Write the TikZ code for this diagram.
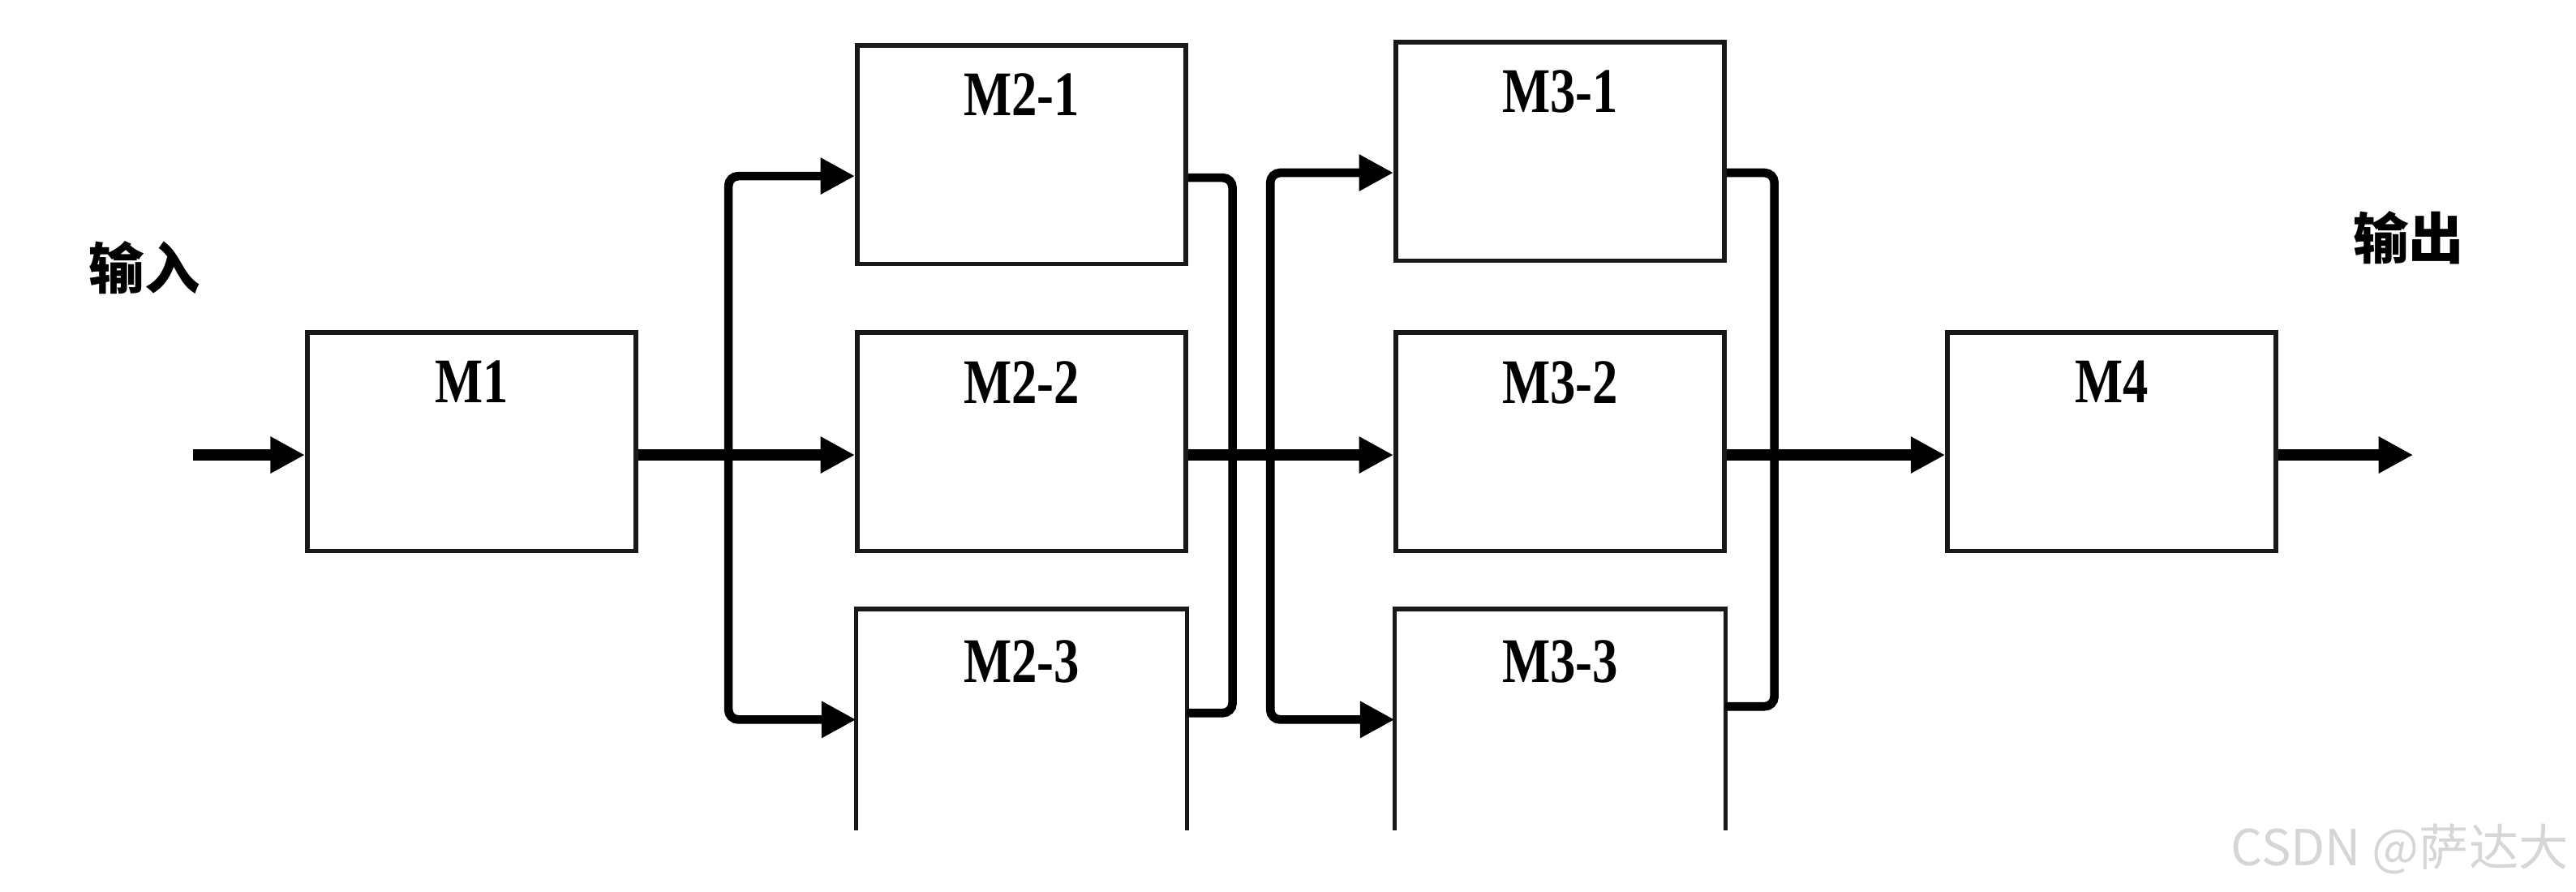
\documentclass[tikz,border=0pt]{standalone}
\usepackage{fontspec}
\setmainfont{Liberation Serif}
\newfontfamily\cjk{Noto Sans CJK SC}
\newfontfamily\modfont{Liberation Serif}[FakeStretch=0.8]
\usetikzlibrary{positioning,arrows.meta,calc}

\begin{document}
\begin{tikzpicture}[
  >={Triangle[length=2.1mm, width=2.1mm]},
  modlbl/.style={anchor=north, inner sep=0pt, yshift=-1.8mm,
                 font=\modfont\bfseries\fontsize{11}{11}\selectfont},
  mod/.style={draw=black!90, line width=0.8pt, minimum width=20mm,
              minimum height=13.3mm, inner sep=0pt, label={[modlbl]north:#1}},
  openmod/.style={minimum width=20mm, minimum height=13.3mm, inner sep=0pt,
                  label={[modlbl]north:#1}},
  side/.style={draw=black!90, line width=0.8pt},
  main/.style={line width=2pt, black},
  bus/.style={line width=1.5pt, black, rounded corners=0.6mm},
  io/.style={font=\cjk\bfseries\fontsize{9.6}{11}\selectfont},
  wm/.style={font=\cjk\fontsize{8.6}{10}\selectfont, text=black!16, inner sep=0pt},
]
\useasboundingbox (0,0) rectangle (156.8mm,-54.3mm);

%% ---------- modules ----------
\node[mod=M1] (m1) at (28.7mm,-26.9mm) {};
\node[mod=M2-2, right=13.2mm of m1] (m22) {};
\node[mod=M2-1, above=3.9mm of m22] (m21) {};
\node[openmod=M2-3, below=3.4mm of m22] (m23) {};
\node[mod=M3-2, right=12.5mm of m22] (m32) {};
\node[mod=M3-1, above=4.1mm of m32] (m31) {};
\node[openmod=M3-3, below=3.4mm of m32] (m33) {};
\node[mod=M4, right=13.3mm of m32] (m4) {};
%% bottom rows are cut open at the lower edge
\draw[side] (m23.south west) -- (m23.north west) -- (m23.north east) -- (m23.south east);
\draw[side] (m33.south west) -- (m33.north west) -- (m33.north east) -- (m33.south east);

%% ---------- input / output ----------
\node[io] (inlbl) at (8.8mm,-16.3mm) {输入};
\node[io] (outlbl) at (146.6mm,-14.5mm) {输出};
\coordinate (in) at ($(m1.west)+(-6.8mm,-0.8mm)$);
\coordinate (out) at ($(m4.east)+(8.2mm,-0.8mm)$);

%% ---------- vertical buses ----------
\coordinate (b1) at ($(m1.east)+(5.5mm,0)$);
\coordinate (c2) at ($(m22.east)+(2.7mm,0)$);
\coordinate (b2) at ($(m22.east)+(5.0mm,0)$);
\coordinate (c3) at ($(m32.east)+(2.9mm,0)$);
%% taps sit a little below the box middles in the top row
\coordinate (t21w) at ($(m21.west)+(0,-1.3mm)$);
\coordinate (t21e) at ($(m21.east)+(0,-1.4mm)$);
\coordinate (t23e) at ($(m23.east)+(0,0.4mm)$);
\coordinate (t31w) at ($(m31.west)+(0,-1.3mm)$);
\coordinate (t31e) at ($(m31.east)+(0,-1.3mm)$);
\coordinate (t33e) at ($(m33.east)+(0,0.8mm)$);

\draw[bus, <->] (t21w) -- (b1 |- t21w) -- (b1 |- m23.west) -- (m23.west);
\draw[bus] (t21e) -- (c2 |- t21e) -- (c2 |- t23e) -- (t23e);
\draw[bus, <->] (t31w) -- (b2 |- t31w) -- (b2 |- m33.west) -- (m33.west);
\draw[bus] (t31e) -- (c3 |- t31e) -- (c3 |- t33e) -- (t33e);

%% ---------- main line ----------
\draw[main, ->] (in) -- ($(m1.west)+(0,-0.8mm)$);
\draw[main, ->] ($(m1.east)+(0,-0.8mm)$) -- ($(m22.west)+(0,-0.8mm)$);
\draw[main, ->] ($(m22.east)+(0,-0.8mm)$) -- ($(m32.west)+(0,-0.8mm)$);
\draw[main, ->] ($(m32.east)+(0,-0.8mm)$) -- ($(m4.west)+(0,-0.8mm)$);
\draw[main, ->] ($(m4.east)+(0,-0.8mm)$) -- (out);

\node[wm, anchor=south east] (mark) at (156.4mm,-53.3mm) {CSDN @萨达大};
\end{tikzpicture}
\end{document}
